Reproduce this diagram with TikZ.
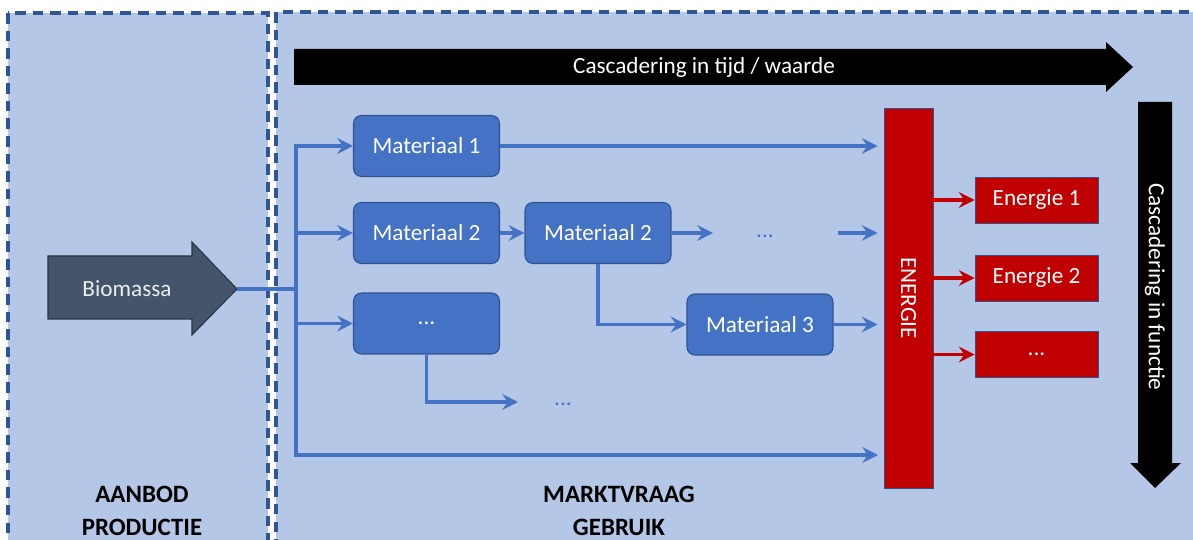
\documentclass[tikz,border=0pt]{standalone}
\usepackage{fontspec}
\setmainfont{Carlito}
\usetikzlibrary{arrows.meta,positioning,calc}

\definecolor{panelblue}{HTML}{B4C7E7}
\definecolor{dashblue}{HTML}{2F5597}
\definecolor{boxblue}{HTML}{4472C4}
\definecolor{boxline}{HTML}{2F528F}
\definecolor{energyred}{HTML}{C00000}
\definecolor{slate}{HTML}{44546A}
\definecolor{slateline}{HTML}{2B3442}

\tikzset{
  panel/.style={fill=panelblue, draw=dashblue, line width=2pt, dash pattern=on 6pt off 4pt},
  txt/.style={font=\fontsize{13.2}{16}\selectfont},
  matbox/.style={txt, rectangle, rounded corners=4.5pt, fill=boxblue, draw=boxline, line width=0.6pt,
    minimum width=2.92cm, minimum height=1.22cm, text=white},
  enbox/.style={txt, rectangle, fill=energyred, draw=boxline, line width=0.5pt,
    minimum width=2.46cm, minimum height=0.92cm, text=white},
  flow/.style={draw=boxblue, line width=1.8pt, -{Stealth[length=9pt,width=9pt,inset=3.2pt]}},
  redflow/.style={flow, draw=energyred},
  moredots/.style={txt, text=boxblue},
  bigarrow/.style={fill=black},
  panellabel/.style={align=center, inner sep=0.5pt, font=\fontsize{14.2}{18.7}\selectfont\bfseries}
}

\begin{document}
\begin{tikzpicture}[x=0.02cm, y=-0.02cm]
  \useasboundingbox (0,0) rectangle (1193,540);
  \clip (0,0) rectangle (1193,540);

  % panels
  \draw[panel] (8,13) rectangle (268,570);
  \draw[panel] (276,12) rectangle (1220,570);

  % big black arrows
  \fill[bigarrow] (294,49) -- (1106,49) -- (1106,42) -- (1133,67) -- (1106,92) -- (1106,85) -- (294,85) -- cycle;
  \node[txt, text=white] (tijd) at (704,67) {Cascadering in tijd / waarde};

  \fill[bigarrow] (1138,102) -- (1172,102) -- (1172,463) -- (1181,463) -- (1155,488) -- (1130,463) -- (1138,463) -- cycle;
  \node[txt, text=white, rotate=-90] (functie) at (1155,287) {Cascadering in functie};

  % biomassa
  \draw[fill=slate, draw=slateline, line width=0.6pt] (48,256) -- (192,256) -- (192,242) -- (237,289) -- (192,335) -- (192,319) -- (48,319) -- cycle;
  \node[txt, text=gray!15] (biomassa) at (127,289) {Biomassa};
  \coordinate (biotip) at (237,289);
  \coordinate (split) at (296,289);

  % materials
  \node[matbox] (mat1) at (426.5,146) {Materiaal 1};
  \node[matbox] (mat2) at (426.5,233) {Materiaal 2};
  \node[matbox] (matdots) at (426.5,323.5) {...};
  \node[matbox] (mat2b) at (598,233) {Materiaal 2};
  \node[matbox] (mat3) at (760,324.5) {Materiaal 3};

  \node[moredots] (dotsa) at (765,236) {...};
  \node[moredots] (dotsb) at (563,404) {...};

  % energy (rotated: south is the left side, north the right side)
  \node[txt, rectangle, fill=energyred, draw=boxline, line width=0.5pt, text=white,
        minimum width=7.6cm, minimum height=0.98cm, rotate=-90] (energie) at (908.5,298) {ENERGIE};
  \node[enbox] (en1) at (1036.5,200) {Energie 1};
  \node[enbox] (en2) at (1036.5,278) {Energie 2};
  \node[enbox] (en3) at (1036.5,354.5) {...};

  \coordinate (gap1) at (713,233);
  \coordinate (gap2) at (838,233);
  \coordinate (gap3) at (518,402);
  \coordinate (lowin) at (878,455);

  % blue flows
  \draw[draw=boxblue, line width=1.8pt] (biotip) -- (split);
  \draw[flow] (split) |- (mat1);
  \draw[flow] (split) |- (mat2);
  \draw[flow] (split) |- (matdots);
  \draw[flow] (split) |- (lowin);

  \draw[flow, shorten >=3.4pt] (mat1) -- (mat1 -| energie.south);
  \draw[flow] (mat2) -- (mat2b);
  \draw[flow] (mat2b) -- (gap1);
  \draw[flow, shorten >=3.4pt] (gap2) -- (gap2 -| energie.south);
  \draw[flow] (mat2b.south) |- (mat3);
  \draw[flow, shorten >=3.4pt] (mat3) -- (mat3 -| energie.south);
  \draw[flow] (matdots.south) |- (gap3);

  % red flows
  \draw[redflow] (en1 -| energie.north) -- (en1);
  \draw[redflow] (en2 -| energie.north) -- (en2);
  \draw[redflow] (en3 -| energie.north) -- (en3);

  % labels
  \node[panellabel] (aanbod) at (142,511) {AANBOD\\PRODUCTIE};
  \node[panellabel] (marktvraag) at (619,511) {MARKTVRAAG\\GEBRUIK};
\end{tikzpicture}
\end{document}
